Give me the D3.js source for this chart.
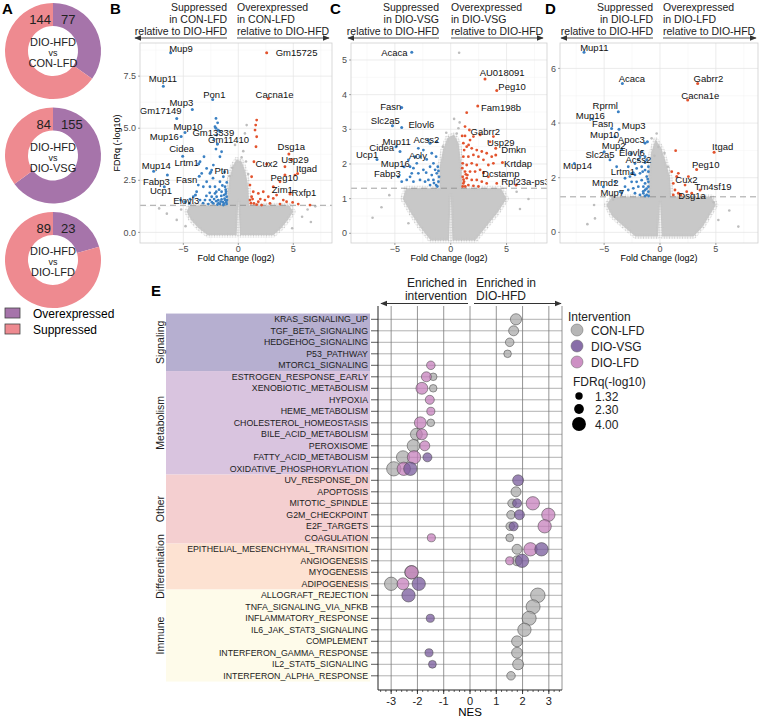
<!DOCTYPE html>
<html>
<head>
<meta charset="utf-8">
<script src="https://cdn.jsdelivr.net/npm/d3@7"></script>
<style>
  body { margin: 0; background: #fff; }
  svg { font-family: "Liberation Sans", Arial, sans-serif; }
</style>
</head>
<body>
<svg id="fig" width="760" height="718"></svg>
<script>
// ---- A: number of DE genes per comparison
const comparisons = ['CON-LFD', 'DIO-VSG', 'DIO-LFD'];
const overexpressed = [77, 155, 23];
const suppressed = [144, 84, 89];

// ---- B-D: volcano plots, labelled genes (x = log2 FC, y = -log10 FDR, lx/ly = label spot)
const genesB = [
  {g:'Mup9', x:-6.15, y:8.62, lx:-5.21, ly:8.83}, {g:'Gm15725', x:2.58, y:8.62, lx:5.3, ly:8.64},
  {g:'Mup11', x:-6.82, y:7.02, lx:-6.85, ly:7.36}, {g:'Pon1', x:-2.33, y:6.38, lx:-2.18, ly:6.62},
  {g:'Cacna1e', x:2.73, y:6.43, lx:3.3, ly:6.62}, {g:'Mup3', x:-4.18, y:5.9, lx:-5.18, ly:6.22},
  {g:'Gm17149', x:-5.6, y:5.47, lx:-7.06, ly:5.82}, {g:'Mup10', x:-4.85, y:4.8, lx:-4.58, ly:5.07},
  {g:'Gm13339', x:-2.03, y:5.0, lx:-2.27, ly:4.8}, {g:'Mup16', x:-5.2, y:4.6, lx:-6.73, ly:4.59},
  {g:'Gm11410', x:-1.9, y:4.24, lx:-0.88, ly:4.43}, {g:'Cidea', x:-5.06, y:3.66, lx:-5.15, ly:4.0},
  {g:'Lrtm1', x:-3.6, y:3.3, lx:-4.7, ly:3.36}, {g:'Mup14', x:-7.7, y:2.94, lx:-7.45, ly:3.2},
  {g:'Ptn', x:-2.5, y:2.9, lx:-1.52, ly:2.96}, {g:'Fabp3', x:-6.45, y:2.75, lx:-7.45, ly:2.43},
  {g:'Fasn', x:-3.55, y:2.7, lx:-4.7, ly:2.51}, {g:'Ucp1', x:-6.73, y:2.19, lx:-7.03, ly:1.98},
  {g:'Elovl3', x:-3.9, y:1.8, lx:-4.73, ly:1.54}, {g:'Dsg1a', x:4.6, y:3.76, lx:4.82, ly:4.11},
  {g:'Cux2', x:2.58, y:3.28, lx:2.58, ly:3.3}, {g:'Usp29', x:4.85, y:3.5, lx:5.15, ly:3.47},
  {g:'Itgad', x:5.39, y:2.83, lx:6.21, ly:3.04}, {g:'Peg10', x:4.24, y:2.75, lx:4.18, ly:2.64},
  {g:'Zim1', x:3.18, y:2.19, lx:4.0, ly:2.06}, {g:'Rxfp1', x:4.7, y:1.84, lx:5.97, ly:1.9}
];
const genesC = [
  {g:'Acaca', x:-3.49, y:5.22, lx:-5.04, ly:5.22}, {g:'AU018091', x:3.07, y:4.45, lx:4.6, ly:4.62},
  {g:'Peg10', x:4.12, y:4.12, lx:5.49, ly:4.23}, {g:'Fam198b', x:2.42, y:3.67, lx:4.51, ly:3.61},
  {g:'Fasn', x:-4.39, y:3.63, lx:-5.37, ly:3.65}, {g:'Slc2a5', x:-5.22, y:3.1, lx:-5.85, ly:3.25},
  {g:'Elovl6', x:-4.39, y:3.05, lx:-2.63, ly:3.13}, {g:'Gabrr2', x:2.63, y:2.84, lx:3.1, ly:2.93},
  {g:'Usp29', x:4.03, y:2.45, lx:4.48, ly:2.62}, {g:'Acss2', x:-1.85, y:2.6, lx:-2.18, ly:2.71},
  {g:'Mup11', x:-4.54, y:2.36, lx:-4.84, ly:2.63}, {g:'Cidea', x:-4.9, y:2.5, lx:-6.18, ly:2.48},
  {g:'Dmkn', x:4.03, y:2.26, lx:5.64, ly:2.4}, {g:'Ucp1', x:-6.6, y:2.13, lx:-7.49, ly:2.26},
  {g:'Acly', x:-3.19, y:2.21, lx:-2.93, ly:2.23}, {g:'Krtdap', x:4.63, y:2.04, lx:6.03, ly:2.02},
  {g:'Mup16', x:-4.18, y:1.92, lx:-4.96, ly:2.0}, {g:'Fabp3', x:-4.69, y:1.63, lx:-5.67, ly:1.71},
  {g:'Dcstamp', x:2.93, y:1.75, lx:4.48, ly:1.73}, {g:'Rpl23a-ps3', x:5.85, y:1.39, lx:6.69, ly:1.49}
];
const genesD = [
  {g:'Mup11', x:-6.8, y:6.59, lx:-5.88, ly:6.76}, {g:'Acaca', x:-3.37, y:5.45, lx:-2.51, ly:5.61},
  {g:'Gabrr2', x:3.37, y:5.45, lx:4.33, ly:5.61}, {g:'Cacna1e', x:2.48, y:4.84, lx:3.61, ly:5.02},
  {g:'Rprml', x:-3.73, y:4.41, lx:-4.9, ly:4.62}, {g:'Mup16', x:-6.03, y:4.15, lx:-6.24, ly:4.27},
  {g:'Fasn', x:-4.33, y:3.8, lx:-5.13, ly:3.96}, {g:'Mup3', x:-3.67, y:3.77, lx:-2.36, ly:3.9},
  {g:'Mup10', x:-4.03, y:3.5, lx:-4.96, ly:3.57}, {g:'Apoc3', x:-1.13, y:3.32, lx:-2.57, ly:3.38},
  {g:'Mup2', x:-3.43, y:3.05, lx:-4.15, ly:3.17}, {g:'Elovl6', x:-2.6, y:2.89, lx:-2.51, ly:2.91},
  {g:'Slc2a5', x:-5.0, y:2.95, lx:-5.37, ly:2.83}, {g:'Itgad', x:4.84, y:2.93, lx:5.61, ly:3.13},
  {g:'Acss2', x:-1.34, y:2.56, lx:-1.94, ly:2.65}, {g:'Mup14', x:-7.67, y:2.52, lx:-7.37, ly:2.44},
  {g:'Peg10', x:3.28, y:2.3, lx:4.09, ly:2.46}, {g:'Lrtm1', x:-2.4, y:2.18, lx:-3.31, ly:2.22},
  {g:'Cux2', x:1.5, y:2.04, lx:2.36, ly:1.91}, {g:'Mmd2', x:-5.07, y:1.67, lx:-4.9, ly:1.83},
  {g:'Tm4sf19', x:3.58, y:1.55, lx:4.75, ly:1.67}, {g:'Mup7', x:-3.43, y:1.45, lx:-4.27, ly:1.45},
  {g:'Dsg1a', x:1.85, y:1.37, lx:2.87, ly:1.33}
];

// other significant genes [log2FC, -log10 FDR]
const sigB = [[-2.03,5.47],[-1.88,5.26],[-2.12,5.07],[-1.82,4.91],[-1.97,4.67],[-1.67,4.83],[-2.21,4.46],[-1.91,4.24],
  [-2.03,4.0],[-1.52,3.87],[-1.67,3.63],[-2.42,2.99],[-2.58,2.83],[-2.27,3.23],[-3.12,3.63],[-3.48,3.39],[-2.88,3.07],
  [-3.33,2.83],[-3.64,2.27],[-3.18,2.19],[-3.79,1.95],[-2.88,2.43],[-2.58,2.19],[-2.12,2.19],[-1.67,2.43],[-1.36,2.67],
  [-1.21,2.19],[-1.52,1.95],[-1.97,1.71],[-2.58,1.55],[-2.27,1.39],[-1.82,1.55],[-1.21,1.55],[-1.36,1.31],[-1.67,1.36],
  [-2.73,1.36],[-3.03,1.55],[-3.48,1.55],[-4.09,1.71],[-4.39,1.6],[-4.45,1.39],[-4.85,1.47],[-5.24,1.55],[-1.06,1.71],
  [-1.12,1.95],[-1.3,1.79],[-1.52,1.58],[-2.12,1.87],[-2.42,1.71],[-1.06,1.36],[-1.03,1.55],[-1.1,1.45],[-1.25,1.62],
  [-1.4,1.45],[-1.55,1.75],[-1.8,1.4],[-2.0,1.5],[-2.2,1.6],[-2.4,1.45],[-1.15,2.05],[-1.45,2.25],[-1.75,2.05],
  [-2.0,1.95],[-1.3,1.38],[-1.6,1.48],[-1.9,1.33],[-1.15,1.85],[-2.6,1.9],[-2.9,1.75],[-3.2,1.4],[-1.05,2.4],
  [-1.25,2.9],[-2.3,2.6],
  [1.67,5.39],[1.58,5.15],[1.52,4.91],[1.67,4.59],[1.61,4.11],[1.42,3.39],[4.24,3.15],[5.15,2.75],[3.79,2.43],
  [1.21,2.67],[1.06,2.27],[1.36,1.95],[1.82,1.87],[2.27,1.95],[2.73,1.71],[3.18,1.63],[3.48,1.79],[4.09,1.55],
  [4.39,1.47],[4.94,1.44],[5.45,1.36],[6.52,1.31],[1.06,1.55],[1.42,1.39],[1.82,1.47],[2.12,1.31],[2.42,1.55],
  [1.21,1.71],[1.67,1.33],[2.88,1.39],[3.79,1.36],[1.15,1.4],[1.3,1.6],[2.0,1.6]];
const sigC = [[-2.9,2.45],[-2.45,2.4],[-2.75,2.21],[-2.15,2.13],[-3.04,2.02],[-3.34,1.88],[-3.49,1.73],[-2.9,1.73],
  [-2.45,1.83],[-1.85,1.92],[-1.55,2.02],[-1.4,1.83],[-1.25,1.73],[-1.7,1.68],[-2.0,1.54],[-2.3,1.49],[-2.75,1.54],
  [-3.34,1.49],[-3.64,1.63],[-3.94,1.54],[-4.39,1.49],[-1.1,1.49],[-1.31,1.39],[-1.85,1.39],[-1.55,1.54],[-1.05,1.63],
  [-1.16,1.92],[-1.31,2.21],[-1.7,2.31],[-2.0,2.69],[-1.25,2.64],[-3.79,2.12],[-3.64,1.92],[-1.2,1.35],[-1.5,1.45],
  [-1.1,1.8],[-2.2,1.75],
  [1.43,3.48],[1.02,2.81],[1.28,2.81],[1.13,2.6],[1.43,2.5],[1.88,2.45],[2.33,2.4],[2.78,2.36],[3.22,2.31],[3.67,2.21],
  [3.82,2.02],[3.37,1.97],[2.93,2.12],[2.48,2.21],[2.03,2.26],[1.58,2.21],[1.13,2.21],[1.07,2.02],[1.43,1.97],
  [1.88,2.02],[2.33,1.97],[2.63,1.83],[2.18,1.78],[1.73,1.78],[1.28,1.78],[1.07,1.63],[1.43,1.59],[1.88,1.54],
  [2.33,1.54],[2.78,1.49],[3.22,1.44],[1.13,1.44],[1.58,1.39],[2.03,1.37],[2.48,1.35],[1.07,1.35],[1.19,1.49],
  [1.49,1.68],[1.03,1.88],[1.73,2.69],[2.03,2.79],[1.67,2.98],[1.28,3.08],[3.52,2.64],[3.82,2.79],[3.37,1.63],
  [4.12,1.44],[1.2,2.4],[1.6,2.55],[1.15,1.55],[1.35,1.7],[1.3,1.35]];
const sigD = [[-1.34,3.26],[-1.64,2.95],[-1.79,2.77],[-1.34,2.77],[-1.19,2.65],[-1.94,2.65],[-2.24,2.52],[-2.09,2.34],
  [-1.64,2.4],[-1.34,2.28],[-1.04,2.22],[-1.79,2.16],[-2.24,2.1],[-2.69,2.04],[-3.13,1.98],[-2.54,1.85],[-2.09,1.85],
  [-1.64,1.91],[-1.34,1.79],[-1.04,1.85],[-1.49,1.67],[-1.94,1.67],[-2.39,1.61],[-2.84,1.55],[-1.34,1.55],[-1.04,1.49],
  [-1.49,1.43],[-1.19,1.37],[-1.79,1.37],[-2.24,1.43],[-1.04,1.67],[-1.34,1.33],[-3.58,1.49],[-4.03,1.85],[-3.88,2.4],
  [-4.48,2.65],[-2.84,2.4],[-2.54,2.16],[-3.13,1.67],[-1.19,2.04],[-1.04,2.4],[-1.55,2.22],[-1.02,1.33],[-1.2,1.6],
  [-1.1,1.95],[-1.5,1.5],
  [1.4,2.99],[1.05,2.22],[1.64,2.16],[1.19,1.79],[1.34,1.55],[1.64,1.43],[2.24,1.73],[2.54,2.04],[2.39,1.49],
  [1.19,1.37],[2.84,1.43]];

// non-significant genes: outline of the dense cloud (notched at FC = 0) and scattered outliers
const cloudB = [[0,1.5],[-0.15,-0.12],[-2.8,-0.12],[-3.6,0.2],[-4.3,0.6],[-4.7,1.0],[-4.4,1.3],[-1,1.3],[-0.95,2.0],
  [-0.8,2.6],[-0.5,3.2],[-0.15,3.5],[0.3,3.4],[0.6,3.0],[0.85,2.4],[1,1.3],[4.6,1.3],[5.0,1.0],[4.5,0.6],[3.9,0.2],
  [3.2,-0.12],[0.15,-0.12]];
const cloudC = [[0,1.1],[-0.15,-0.2],[-1.8,-0.2],[-2.8,0.2],[-3.6,0.6],[-4.3,1.0],[-4.0,1.3],[-1,1.3],[-1,1.9],
  [-0.7,2.4],[-0.3,2.75],[0.3,2.85],[0.7,2.6],[0.95,2.0],[1,1.3],[4.5,1.3],[5.0,1.0],[4.2,0.6],[3.2,0.2],[2.2,-0.2],
  [0.15,-0.2]];
const cloudD = [[0,1.1],[-0.18,-0.15],[-2.2,-0.15],[-3.2,0.2],[-4.3,0.6],[-4.8,1.0],[-4.3,1.3],[-1,1.3],[-1,2.2],
  [-0.8,2.9],[-0.4,3.4],[0.1,3.1],[0.5,2.6],[0.9,2.0],[1,1.3],[4.6,1.3],[5.0,1.0],[4.4,0.6],[3.8,0.2],[3.0,-0.15],
  [0.18,-0.15]];
const grayB = [[0.76,5.15],[0.6,4.75],[0.45,3.9],[0.7,3.4],[-0.55,3.1],[0.3,3.6],[-0.8,2.7],[0.9,2.8],[-7.2,1.15],
  [-6.5,0.9],[-5.6,0.6],[6.3,1.1],[7.0,1.25],[5.8,0.75],[6.6,0.5],[-4.8,0.3],[-5.2,1.1],[4.9,0.2],[-0.3,4.2]];
const grayC = [[0.75,5.21],[0.69,3.03],[0.54,2.88],[6.96,0.99],[-3.79,0.29],[-0.4,2.9],[0.3,3.3],[-6.2,0.75],
  [-7.0,0.45],[6.2,0.7],[-5.5,1.1],[5.9,1.2],[-0.7,2.5],[0.8,3.2]];
const grayD = [[-0.3,3.62],[-0.75,3.44],[-0.15,3.13],[-5.82,0.51],[7.01,0.21],[5.22,0.45],[-0.5,2.8],[0.4,2.9],
  [-6.5,0.3],[6.2,0.8],[-5.9,1.0],[4.8,1.1],[0.7,2.4],[-4.2,1.2]];

// ---- E: GSEA hallmark pathways
const groupNames = ['Signaling', 'Metabolism', 'Other', 'Differentiation', 'Immune'];
const groupSizes = [5, 9, 6, 4, 8];
const pathways = ['KRAS_SIGNALING_UP','TGF_BETA_SIGNALING','HEDGEHOG_SIGNALING','P53_PATHWAY','MTORC1_SIGNALING',
  'ESTROGEN_RESPONSE_EARLY','XENOBIOTIC_METABOLISM','HYPOXIA','HEME_METABOLISM','CHOLESTEROL_HOMEOSTASIS',
  'BILE_ACID_METABOLISM','PEROXISOME','FATTY_ACID_METABOLISM','OXIDATIVE_PHOSPHORYLATION',
  'UV_RESPONSE_DN','APOPTOSIS','MITOTIC_SPINDLE','G2M_CHECKPOINT','E2F_TARGETS','COAGULATION',
  'EPITHELIAL_MESENCHYMAL_TRANSITION','ANGIOGENESIS','MYOGENESIS','ADIPOGENESIS',
  'ALLOGRAFT_REJECTION','TNFA_SIGNALING_VIA_NFKB','INFLAMMATORY_RESPONSE','IL6_JAK_STAT3_SIGNALING','COMPLEMENT',
  'INTERFERON_GAMMA_RESPONSE','IL2_STAT5_SIGNALING','INTERFERON_ALPHA_RESPONSE'];
const interventions = ['CON-LFD', 'DIO-VSG', 'DIO-LFD'];
// [pathway, NES, FDRq(-log10)]
const nesConLfd = [['KRAS_SIGNALING_UP',1.75,2.9],['TGF_BETA_SIGNALING',1.66,2.4],['HEDGEHOG_SIGNALING',1.51,1.8],
  ['P53_PATHWAY',1.43,1.4],['ESTROGEN_RESPONSE_EARLY',-1.4,1.4],['XENOBIOTIC_METABOLISM',-1.4,1.4],
  ['CHOLESTEROL_HOMEOSTASIS',-1.49,1.4],['BILE_ACID_METABOLISM',-2.04,3.2],['PEROXISOME',-2.15,3.5],
  ['FATTY_ACID_METABOLISM',-2.55,3.7],['OXIDATIVE_PHOSPHORYLATION',-2.9,4.2],['APOPTOSIS',1.75,2.4],
  ['MITOTIC_SPINDLE',1.6,1.8],['G2M_CHECKPOINT',1.56,1.8],['E2F_TARGETS',1.53,1.8],['COAGULATION',1.51,1.5],
  ['EPITHELIAL_MESENCHYMAL_TRANSITION',1.79,2.4],['ANGIOGENESIS',1.79,2.4],['MYOGENESIS',-2.23,3.8],
  ['ADIPOGENESIS',-3.0,3.8],['ALLOGRAFT_REJECTION',2.58,4.3],['TNFA_SIGNALING_VIA_NFKB',2.4,4.1],
  ['INFLAMMATORY_RESPONSE',2.25,4.1],['IL6_JAK_STAT3_SIGNALING',2.07,3.8],['COMPLEMENT',1.79,2.8],
  ['INTERFERON_GAMMA_RESPONSE',1.79,2.8],['IL2_STAT5_SIGNALING',1.83,2.8],['INTERFERON_ALPHA_RESPONSE',1.56,1.8]];
const nesDioVsg = [['FATTY_ACID_METABOLISM',-1.62,2.0],['OXIDATIVE_PHOSPHORYLATION',-2.27,3.8],['UV_RESPONSE_DN',1.83,2.8],
  ['MITOTIC_SPINDLE',1.79,2.0],['G2M_CHECKPOINT',1.88,2.4],['E2F_TARGETS',1.66,2.0],
  ['EPITHELIAL_MESENCHYMAL_TRANSITION',2.72,3.8],['ANGIOGENESIS',1.98,3.8],['ADIPOGENESIS',-1.95,3.8],
  ['ALLOGRAFT_REJECTION',-2.34,3.8],['INFLAMMATORY_RESPONSE',-1.51,1.6],['INTERFERON_GAMMA_RESPONSE',-1.56,1.6],
  ['IL2_STAT5_SIGNALING',-1.43,1.5]];
const nesDioLfd = [['MTORC1_SIGNALING',-1.49,1.8],['ESTROGEN_RESPONSE_EARLY',-1.66,2.4],['XENOBIOTIC_METABOLISM',-1.83,3.2],
  ['HYPOXIA',-1.53,2.0],['HEME_METABOLISM',-1.49,1.6],['CHOLESTEROL_HOMEOSTASIS',-1.89,3.2],
  ['BILE_ACID_METABOLISM',-1.83,2.8],['PEROXISOME',-1.72,2.4],['FATTY_ACID_METABOLISM',-2.13,3.8],
  ['OXIDATIVE_PHOSPHORYLATION',-2.52,3.8],['MITOTIC_SPINDLE',2.39,3.8],['G2M_CHECKPOINT',2.98,3.8],
  ['E2F_TARGETS',2.84,3.8],['COAGULATION',-1.47,1.6],['EPITHELIAL_MESENCHYMAL_TRANSITION',2.3,3.8],
  ['ANGIOGENESIS',1.51,1.6],['MYOGENESIS',-2.22,3.8],['ADIPOGENESIS',-2.55,3.2]];
const fdrLegend = [1.32, 2.30, 4.00];
const nesTicks = [-3, -2, -1, 0, 1, 2, 3];

// ----------------------------------------------------------------
const svg = d3.select('#fig');
const defs = svg.append('defs');
const minus = d => d < 0 ? '\u2212' + Math.abs(d) : String(d);

// speckle used on the edge of the grey cloud
const pat = defs.append('pattern').attr('id', 'speck')
  .attr('patternUnits', 'userSpaceOnUse').attr('width', 2.6).attr('height', 2.6);
pat.append('circle').attr('cx', 1.3).attr('cy', 1.3).attr('r', 0.85).attr('fill', '#c4c4c4');

const mk = defs.append('marker').attr('id', 'arrow').attr('viewBox', '0 0 10 10')
  .attr('refX', 9).attr('refY', 5).attr('markerWidth', 7).attr('markerHeight', 7)
  .attr('orient', 'auto-start-reverse').attr('markerUnits', 'userSpaceOnUse');
mk.append('path').attr('d', 'M0,1 L10,5 L0,9 Z').attr('fill', '#333');

function panelLetter(t, x, y) {
  svg.append('text').attr('x', x).attr('y', y).attr('font-size', 15).attr('font-weight', 'bold').text(t);
}
panelLetter('A', 2, 14); panelLetter('B', 110, 14); panelLetter('C', 330, 14);
panelLetter('D', 545, 14); panelLetter('E', 151, 296);

// ---------------- A
const overColor = '#a674aa', supColor = '#ee8a90';
const arc = d3.arc().innerRadius(25).outerRadius(48);
const pie = d3.pie().sort(null).value(d => d);
comparisons.forEach((c, i) => {
  const cx = 53, cy = 51 + i * 104.5;
  const g = svg.append('g').attr('transform', `translate(${cx},${cy})`);
  g.selectAll('path').data(pie([overexpressed[i], suppressed[i]])).join('path')
    .attr('d', arc).attr('fill', (d, j) => j === 0 ? overColor : supColor);
  g.append('text').attr('x', -2).attr('y', -27).attr('text-anchor', 'end').attr('font-size', 13)
    .attr('fill', '#222').text(suppressed[i]);
  g.append('text').attr('x', 8).attr('y', -27).attr('font-size', 13).attr('fill', '#222').text(overexpressed[i]);
  const t = g.append('g').attr('text-anchor', 'middle').attr('fill', '#222');
  t.append('text').attr('y', -5).attr('font-size', 11).text('DIO-HFD');
  t.append('text').attr('y', 5).attr('font-size', 9).text('vs');
  t.append('text').attr('y', 16).attr('font-size', 11).text(c);
});
[['Overexpressed', overColor], ['Suppressed', supColor]].forEach(([lab, col], i) => {
  svg.append('rect').attr('x', 5).attr('y', 308 + i * 16).attr('width', 15).attr('height', 10)
    .attr('fill', col).attr('stroke', '#444').attr('stroke-width', 0.8);
  svg.append('text').attr('x', 33).attr('y', 317.5 + i * 16).attr('font-size', 12).text(lab);
});

// ---------------- B-D volcanoes
const blue = '#3a80c3', red = '#e3532d';
function volcano(cfg) {
  const x = d3.scaleLinear().domain(cfg.xd).range([cfg.x0, cfg.x1]);
  const y = d3.scaleLinear().domain(cfg.yd).range([243, 43]);
  const g = svg.append('g');
  const clipId = 'clip' + cfg.id;
  defs.append('clipPath').attr('id', clipId).append('rect')
    .attr('x', cfg.x0).attr('y', 43).attr('width', cfg.x1 - cfg.x0).attr('height', 200);

  // grid
  const minorX = [-7.5, -2.5, 2.5, 7.5];
  g.selectAll('.mx').data(minorX).join('line').attr('x1', x).attr('x2', x).attr('y1', 43).attr('y2', 243)
    .attr('stroke', '#f2f2f2').attr('stroke-width', 0.5);
  g.selectAll('.my').data(cfg.yMinor).join('line').attr('x1', cfg.x0).attr('x2', cfg.x1)
    .attr('y1', y).attr('y2', y).attr('stroke', '#f2f2f2').attr('stroke-width', 0.5);
  g.selectAll('.gx').data([-5, 0, 5]).join('line').attr('x1', x).attr('x2', x).attr('y1', 43).attr('y2', 243)
    .attr('stroke', '#e4e4e4').attr('stroke-width', 0.7);
  g.selectAll('.gy').data(cfg.yTicks).join('line').attr('x1', cfg.x0).attr('x2', cfg.x1)
    .attr('y1', y).attr('y2', y).attr('stroke', '#e4e4e4').attr('stroke-width', 0.7);

  const body = g.append('g').attr('clip-path', `url(#${clipId})`);
  body.append('path').datum(cfg.cloud)
    .attr('d', d3.line().x(d => x(d[0])).y(d => y(d[1])).curve(d3.curveLinearClosed))
    .attr('fill', '#c8c8c8').attr('stroke', 'url(#speck)').attr('stroke-width', 5).attr('stroke-linejoin', 'round');
  body.selectAll('.gp').data(cfg.gray).join('circle').attr('cx', d => x(d[0])).attr('cy', d => y(d[1]))
    .attr('r', 1.3).attr('fill', '#bdbdbd');
  body.append('line').attr('x1', cfg.x0).attr('x2', cfg.x1).attr('y1', y(1.3)).attr('y2', y(1.3))
    .attr('stroke', '#8a8a8a').attr('stroke-width', 0.8).attr('stroke-dasharray', '6,4');
  body.selectAll('.sp').data(cfg.sig).join('circle').attr('cx', d => x(d[0])).attr('cy', d => y(d[1]))
    .attr('r', 1.4).attr('fill', d => d[0] < 0 ? blue : red);
  body.selectAll('.gd').data(cfg.genes).join('circle').attr('cx', d => x(d.x)).attr('cy', d => y(d.y))
    .attr('r', 1.5).attr('fill', d => d.x < 0 ? blue : red);
  body.selectAll('.gl').data(cfg.genes).join('text').attr('x', d => x(d.lx)).attr('y', d => y(d.ly))
    .attr('dy', '0.35em').attr('text-anchor', 'middle').attr('font-size', 9.5).attr('fill', '#111').text(d => d.g);

  g.append('rect').attr('x', cfg.x0).attr('y', 43).attr('width', cfg.x1 - cfg.x0).attr('height', 200)
    .attr('fill', 'none').attr('stroke', '#cfcfcf').attr('stroke-width', 0.8);

  // axes
  g.selectAll('.xt').data([-5, 0, 5]).join('text').attr('x', x).attr('y', 251.5).attr('text-anchor', 'middle')
    .attr('font-size', 9).attr('fill', '#4d4d4d').text(minus);
  g.selectAll('.xk').data([-5, 0, 5]).join('line').attr('x1', x).attr('x2', x).attr('y1', 243).attr('y2', 245)
    .attr('stroke', '#666').attr('stroke-width', 0.6);
  g.selectAll('.yt').data(cfg.yTicks).join('text').attr('x', cfg.x0 - 4).attr('y', y).attr('dy', '0.35em')
    .attr('text-anchor', 'end').attr('font-size', 9).attr('fill', '#4d4d4d').text(cfg.yFmt);
  g.selectAll('.yk').data(cfg.yTicks).join('line').attr('x1', cfg.x0 - 2).attr('x2', cfg.x0).attr('y1', y).attr('y2', y)
    .attr('stroke', '#666').attr('stroke-width', 0.6);
  g.append('text').attr('x', (cfg.x0 + cfg.x1) / 2).attr('y', 260.5).attr('text-anchor', 'middle')
    .attr('font-size', 9).text('Fold Change (log2)');
  if (cfg.yTitle) {
    g.append('text').attr('transform', `translate(${cfg.x0 - 20},143) rotate(-90)`).attr('text-anchor', 'middle')
      .attr('font-size', 9).text('FDRq (-log10)');
  }

  // header
  const h = g.append('g').attr('font-size', 10.5).attr('fill', '#222');
  ['Suppressed', 'in ' + cfg.name, 'relative to DIO-HFD'].forEach((t, i) =>
    h.append('text').attr('x', cfg.hl).attr('y', 11 + i * 12).attr('text-anchor', 'end').text(t));
  ['Overexpressed', 'in ' + cfg.name, 'relative to DIO-HFD'].forEach((t, i) =>
    h.append('text').attr('x', cfg.hr).attr('y', 11 + i * 12).text(t));
  g.append('line').attr('x1', cfg.hl).attr('x2', cfg.al).attr('y1', 38).attr('y2', 38)
    .attr('stroke', '#555').attr('stroke-width', 1.1).attr('marker-end', 'url(#arrow)');
  g.append('line').attr('x1', cfg.hr).attr('x2', cfg.ar).attr('y1', 38).attr('y2', 38)
    .attr('stroke', '#555').attr('stroke-width', 1.1).attr('marker-end', 'url(#arrow)');
}

volcano({id: 'B', name: 'CON-LFD', x0: 140, x1: 332, xd: [-8.94, 8.52], yd: [-0.51, 9.09],
  yTicks: [0, 2.5, 5, 7.5], yMinor: [1.25, 3.75, 6.25, 8.75], yFmt: d3.format('.1f'), yTitle: true,
  genes: genesB, sig: sigB, cloud: cloudB, gray: grayB, hl: 227, hr: 237, al: 135, ar: 329});
volcano({id: 'C', name: 'DIO-VSG', x0: 351, x1: 547, xd: [-8.93, 8.62], yd: [-0.28, 5.49],
  yTicks: [0, 1, 2, 3, 4, 5], yMinor: [0.5, 1.5, 2.5, 3.5, 4.5], yFmt: d3.format('d'), yTitle: false,
  genes: genesC, sig: sigC, cloud: cloudC, gray: grayC, hl: 439, hr: 451, al: 348, ar: 543});
volcano({id: 'D', name: 'DIO-LFD', x0: 560, x1: 758, xd: [-8.95, 8.77], yd: [-0.39, 6.93],
  yTicks: [0, 2, 4, 6], yMinor: [1, 3, 5], yFmt: d3.format('d'), yTitle: false,
  genes: genesD, sig: sigD, cloud: cloudD, gray: grayD, hl: 653, hr: 663, al: 561, ar: 756});

// ---------------- E: bubble chart
const ex = d3.scaleLinear().domain([-3.5, 3.5]).range([378, 562]);
const ey = d3.scalePoint().domain(pathways).range([319.3, 675.8]);
const rFdr = v => 3.7 + (v - 1.32) * 1.2;
const groupColors = ['#b6afd0', '#d9c4df', '#f4cfd0', '#fde2d2', '#fefbea'];
const halfRow = ey.step() / 2;

let start = 0;
groupNames.forEach((name, i) => {
  const first = pathways[start], last = pathways[start + groupSizes[i] - 1];
  const y0 = ey(first) - halfRow, y1 = ey(last) + halfRow;
  svg.append('rect').attr('x', 166).attr('y', y0).attr('width', 204).attr('height', y1 - y0).attr('fill', groupColors[i]);
  svg.append('text').attr('transform', `translate(164,${(y0 + y1) / 2}) rotate(-90)`).attr('text-anchor', 'middle')
    .attr('font-size', 10.5).attr('fill', '#222').text(name);
  start += groupSizes[i];
});

const eg = svg.append('g');
eg.selectAll('.rowlab').data(pathways).join('text').attr('x', 368).attr('y', d => ey(d)).attr('dy', '0.35em')
  .attr('text-anchor', 'end').attr('font-size', 8.8).attr('fill', '#222').text(d => d);
eg.selectAll('.rowtick').data(pathways).join('line').attr('x1', 371).attr('x2', 378)
  .attr('y1', d => ey(d)).attr('y2', d => ey(d)).attr('stroke', '#333').attr('stroke-width', 0.8);
eg.selectAll('.hgrid').data(pathways).join('line').attr('x1', 378).attr('x2', 562)
  .attr('y1', d => ey(d)).attr('y2', d => ey(d)).attr('stroke', '#8f8f8f').attr('stroke-width', 0.7);
eg.selectAll('.vgrid').data(nesTicks).join('line').attr('x1', ex).attr('x2', ex).attr('y1', 306).attr('y2', 690)
  .attr('stroke', '#7a7a7a').attr('stroke-width', 0.8);
eg.append('line').attr('x1', 562).attr('x2', 562).attr('y1', 306).attr('y2', 690).attr('stroke', '#7a7a7a').attr('stroke-width', 0.8);
eg.append('line').attr('x1', 378).attr('x2', 378).attr('y1', 306).attr('y2', 690).attr('stroke', '#222').attr('stroke-width', 1);

const dotColors = {'CON-LFD': '#a9a9a9', 'DIO-VSG': '#735599', 'DIO-LFD': '#c47cba'};
[['CON-LFD', nesConLfd], ['DIO-LFD', nesDioLfd], ['DIO-VSG', nesDioVsg]].forEach(([k, arr]) => {
  eg.selectAll('.d' + k).data(arr).join('circle').attr('cx', d => ex(d[1])).attr('cy', d => ey(d[0]))
    .attr('r', d => rFdr(d[2])).attr('fill', dotColors[k]).attr('fill-opacity', 0.72)
    .attr('stroke', '#4a4a4a').attr('stroke-opacity', 0.8).attr('stroke-width', 0.7);
});

// x axis
eg.append('line').attr('x1', 378).attr('x2', 562).attr('y1', 690).attr('y2', 690).attr('stroke', '#222').attr('stroke-width', 1);
eg.selectAll('.mtick').data(d3.range(-3.4, 3.5, 0.2)).join('line').attr('x1', ex).attr('x2', ex)
  .attr('y1', 690).attr('y2', 692).attr('stroke', '#222').attr('stroke-width', 0.7);
eg.selectAll('.xtick').data(nesTicks).join('line').attr('x1', ex).attr('x2', ex)
  .attr('y1', 690).attr('y2', 694).attr('stroke', '#222').attr('stroke-width', 0.9);
eg.selectAll('.xlab').data(nesTicks).join('text').attr('x', ex).attr('y', 705).attr('text-anchor', 'middle')
  .attr('font-size', 11).attr('fill', '#222').text(d => d < 0 ? '-' + Math.abs(d) : d);
eg.append('text').attr('x', 470).attr('y', 716).attr('text-anchor', 'middle').attr('font-size', 11.5).text('NES');

// header
const eh = svg.append('g').attr('font-size', 12).attr('fill', '#222');
eh.append('text').attr('x', 467).attr('y', 287).attr('text-anchor', 'end').text('Enriched in');
eh.append('text').attr('x', 467).attr('y', 300).attr('text-anchor', 'end').text('intervention');
eh.append('text').attr('x', 476).attr('y', 287).text('Enriched in');
eh.append('text').attr('x', 476).attr('y', 300).text('DIO-HFD');
svg.append('line').attr('x1', 468).attr('x2', 381).attr('y1', 303.5).attr('y2', 303.5)
  .attr('stroke', '#333').attr('stroke-width', 1).attr('marker-end', 'url(#arrow)');
svg.append('line').attr('x1', 474).attr('x2', 561).attr('y1', 303.5).attr('y2', 303.5)
  .attr('stroke', '#333').attr('stroke-width', 1).attr('marker-end', 'url(#arrow)');

// legend
const lg = svg.append('g').attr('fill', '#222');
lg.append('text').attr('x', 568).attr('y', 321).attr('font-size', 12).text('Intervention');
interventions.forEach((k, i) => {
  lg.append('circle').attr('cx', 577).attr('cy', 330 + i * 16).attr('r', 6).attr('fill', dotColors[k])
    .attr('fill-opacity', 0.85).attr('stroke', '#666').attr('stroke-width', 0.5);
  lg.append('text').attr('x', 591).attr('y', 334.5 + i * 16).attr('font-size', 12).text(k);
});
lg.append('text').attr('x', 573).attr('y', 386).attr('font-size', 12).text('FDRq(-log10)');
const legY = [396, 409, 424];
fdrLegend.forEach((v, i) => {
  lg.append('circle').attr('cx', 579).attr('cy', legY[i]).attr('r', rFdr(v)).attr('fill', '#000');
  lg.append('text').attr('x', 595).attr('y', legY[i] + 4.5).attr('font-size', 12).text(d3.format('.2f')(v));
});
</script>
</body>
</html>
